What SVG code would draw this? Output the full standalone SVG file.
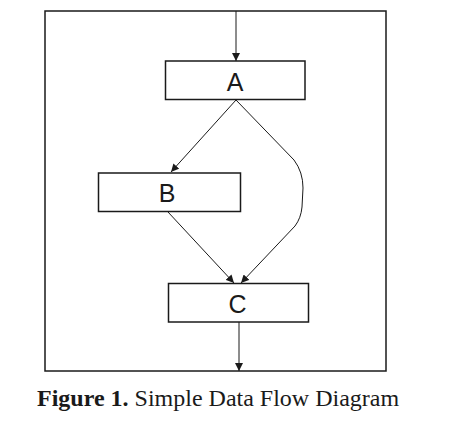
<svg xmlns="http://www.w3.org/2000/svg" width="462" height="444" viewBox="0 0 462 444">
<style>
.box{fill:#fff;stroke:#1a1a1a;stroke-width:1.5}
.lbl{font-family:"Liberation Sans",Arial,sans-serif;font-size:25px;fill:#1a1a1a;text-anchor:middle}
.edge{fill:none;stroke:#1a1a1a;stroke-width:1}
</style>
<defs>
<marker id="ah" viewBox="0 0 8 8" refX="8" refY="4" markerWidth="8" markerHeight="8" markerUnits="userSpaceOnUse" orient="auto">
<path d="M0,0 L8,4 L0,8 Z" fill="#1a1a1a"/>
</marker>
</defs>
<rect x="45" y="11" width="341" height="360" fill="#fff" stroke="#1a1a1a" stroke-width="1.5"/>
<g id="connectors">
<line class="edge" x1="236" y1="11" x2="236" y2="61" marker-end="url(#ah)" stroke-width="1.3"/>
<path class="edge" d="M236,100 L171,172" marker-end="url(#ah)"/>
<path class="edge" d="M236,100 L294,160 Q303,172 303,188 L302,207 Q301,218 295,226 L241,283" marker-end="url(#ah)"/>
<path class="edge" d="M168,212 L234,283" marker-end="url(#ah)"/>
<line class="edge" x1="239" y1="322" x2="239" y2="371" marker-end="url(#ah)" stroke-width="1.3"/>
</g>
<g id="A"><rect class="box" x="165.5" y="61" width="139.5" height="38.5"/><text class="lbl" x="235" y="91">A</text></g>
<g id="B"><rect class="box" x="98.5" y="173" width="142" height="38.5"/><text class="lbl" x="167" y="202">B</text></g>
<g id="C"><rect class="box" x="168.5" y="283.5" width="140" height="38.5"/><text class="lbl" x="237.5" y="313">C</text></g>
<text x="37" y="406" font-family="'Liberation Serif','Times New Roman',serif" font-size="24" fill="#1a1a1a"><tspan font-weight="bold">Figure 1.</tspan> Simple Data Flow Diagram</text>
</svg>
